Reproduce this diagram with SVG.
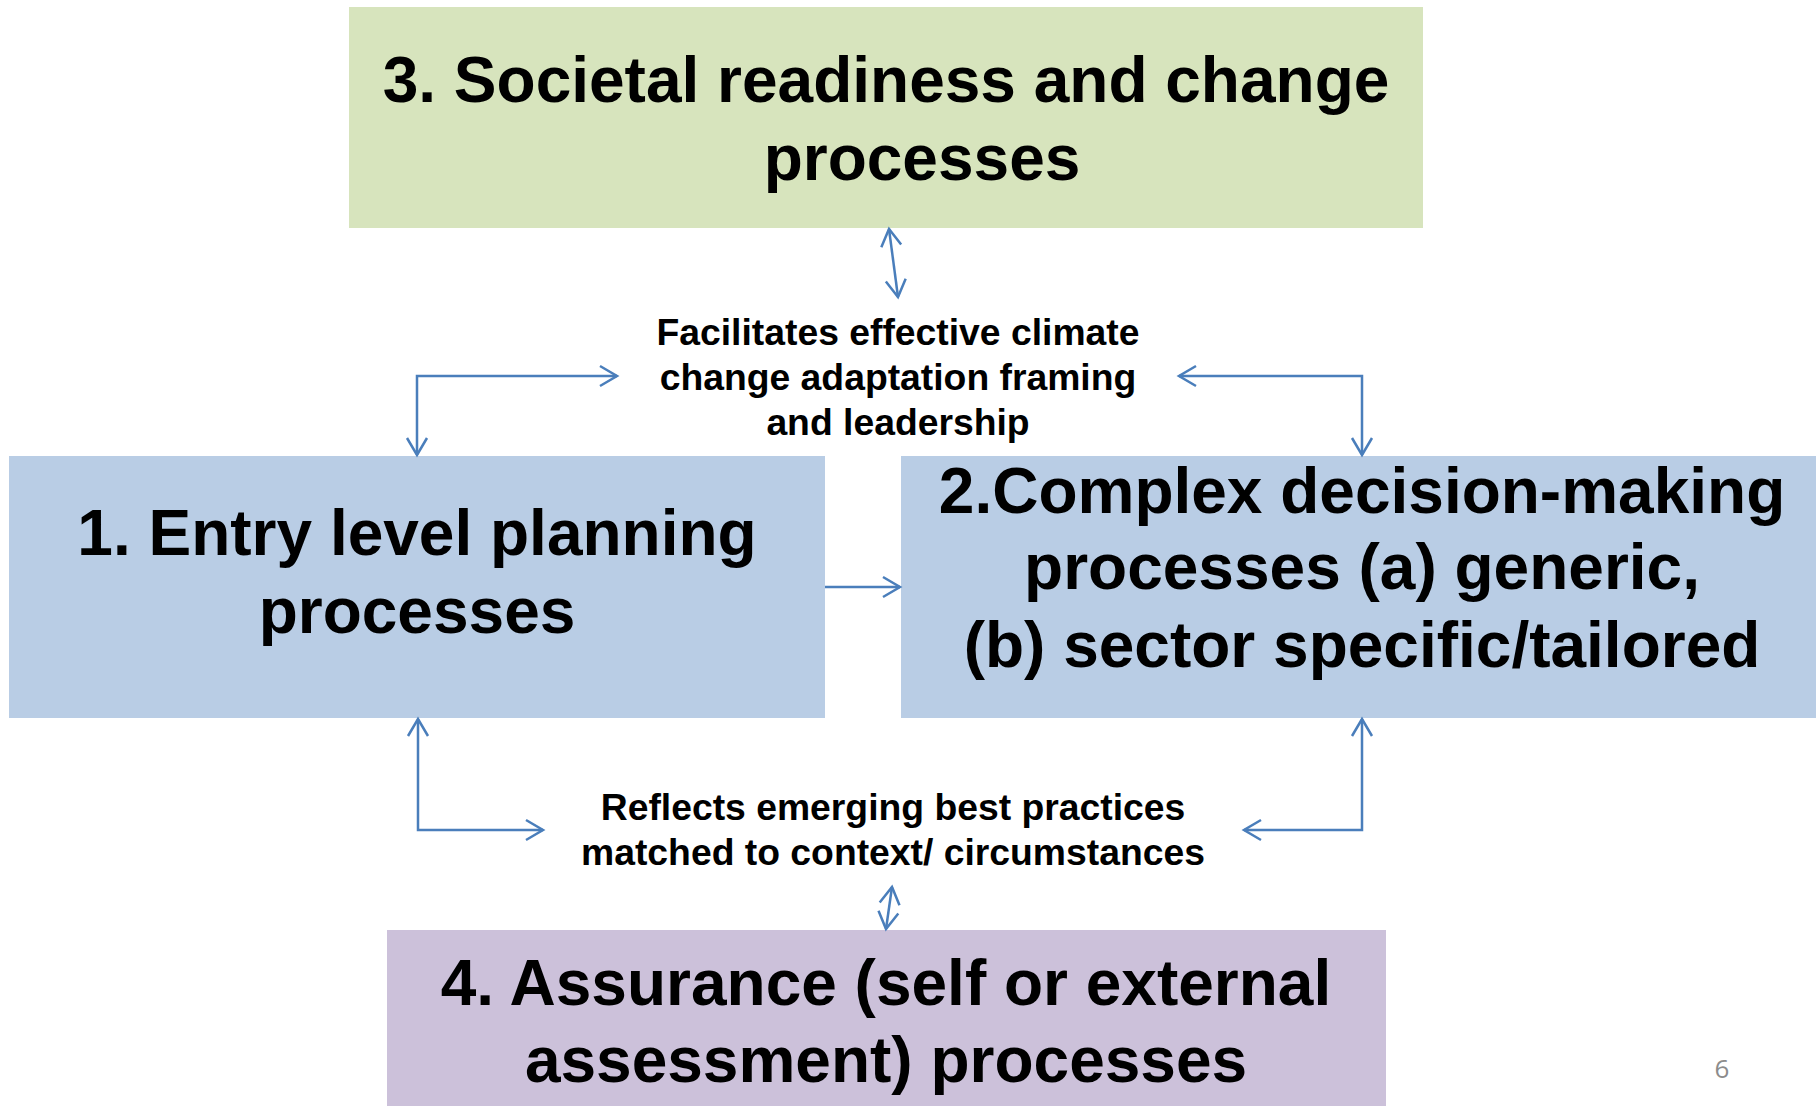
<svg xmlns="http://www.w3.org/2000/svg" width="1816" height="1106" viewBox="0 0 1816 1106">
<style>
.big{font-family:"Liberation Sans",Arial,sans-serif;font-weight:bold;font-size:64px;fill:#000;text-anchor:middle}
.small{font-family:"Liberation Sans",Arial,sans-serif;font-weight:bold;font-size:37.3px;fill:#000;text-anchor:middle}
.conn{fill:none;stroke:#4A7EBB;stroke-width:2.5}
.pg{font-family:"Open Sans","Liberation Sans",sans-serif;font-size:26px;fill:#8C8C8C;text-anchor:middle}
</style>
<defs>
<marker id="ah" markerUnits="userSpaceOnUse" markerWidth="40" markerHeight="40" viewBox="-20 -20 40 40" refX="0" refY="0" orient="auto-start-reverse">
<path d="M-17,-10 L0,0 L-17,10" fill="none" stroke="#4A7EBB" stroke-width="2.5"/>
</marker>
</defs>
<rect width="1816" height="1106" fill="#fff"/>
<g id="node3">
<rect x="349" y="7" width="1074" height="221" fill="#D7E4BD"/>
<text class="big" x="886" y="102">3. Societal readiness and change</text>
<text class="big" x="922" y="180">processes</text>
</g>
<g id="node1">
<rect x="9" y="456" width="816" height="262" fill="#B9CDE5"/>
<text class="big" x="417" y="555">1. Entry level planning</text>
<text class="big" x="417" y="633">processes</text>
</g>
<g id="node2">
<rect x="901" y="456" width="915" height="262" fill="#B9CDE5"/>
<text class="big" x="1362" y="513">2.Complex decision-making</text>
<text class="big" x="1362" y="589">processes (a) generic,</text>
<text class="big" x="1362" y="667">(b) sector specific/tailored</text>
</g>
<g id="node4">
<rect x="387" y="930" width="999" height="176" fill="#CCC1DA"/>
<text class="big" x="886" y="1005">4. Assurance (self or external</text>
<text class="big" x="886" y="1082">assessment) processes</text>
</g>
<g id="label-top">
<text class="small" x="898" y="345">Facilitates effective climate</text>
<text class="small" x="898" y="390">change adaptation framing</text>
<text class="small" x="898" y="435">and leadership</text>
</g>
<g id="label-bottom">
<text class="small" x="893" y="820">Reflects emerging best practices</text>
<text class="small" x="893" y="865">matched to context/ circumstances</text>
</g>
<g id="connectors">
<path class="conn" d="M889,229 L898,297" marker-start="url(#ah)" marker-end="url(#ah)"/>
<path class="conn" d="M417,455 L417,376 L617,376" marker-start="url(#ah)" marker-end="url(#ah)"/>
<path class="conn" d="M1362,455 L1362,376 L1179,376" marker-start="url(#ah)" marker-end="url(#ah)"/>
<path class="conn" d="M825,587 L900,587" marker-end="url(#ah)"/>
<path class="conn" d="M418,719 L418,830 L543,830" marker-start="url(#ah)" marker-end="url(#ah)"/>
<path class="conn" d="M1362,719 L1362,830 L1244,830" marker-start="url(#ah)" marker-end="url(#ah)"/>
<path class="conn" d="M892,887 L886,929" marker-start="url(#ah)" marker-end="url(#ah)"/>
</g>
<text class="pg" x="1722" y="1078">6</text>
</svg>
